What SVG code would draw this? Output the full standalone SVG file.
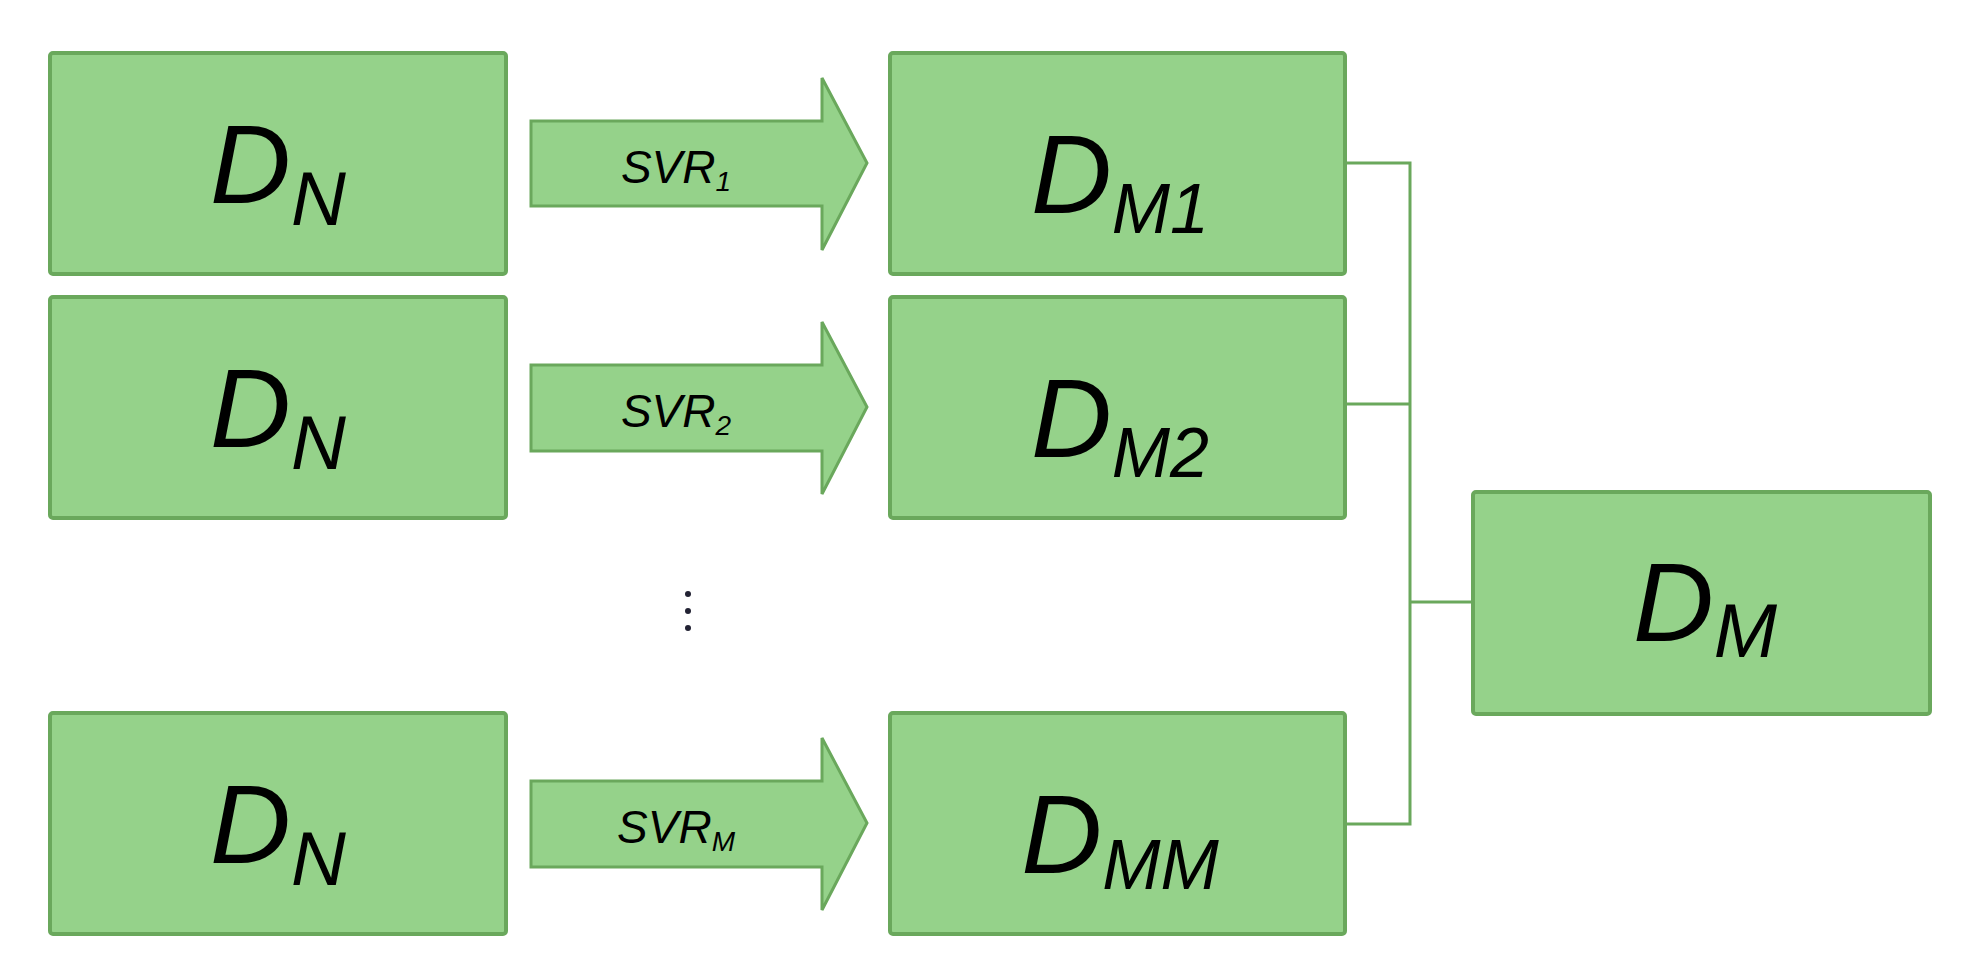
<svg xmlns="http://www.w3.org/2000/svg" width="1970" height="978" viewBox="0 0 1970 978">
<style>
.box{fill:#95d28a;stroke:#6aa85c;stroke-width:4}
.arr{fill:#95d28a;stroke:#6aa85c;stroke-width:3}
.big{font-family:"Liberation Sans",sans-serif;font-style:italic;font-size:112px;fill:#000}
.svr{font-family:"Liberation Sans",sans-serif;font-style:italic;font-size:46px;fill:#000}
.con{fill:none;stroke:#6aa85c;stroke-width:3}
</style>
<rect width="1970" height="978" fill="#fff"/>
<g id="connectors">
<path class="con" d="M1345 163H1410V824H1345M1345 404H1410M1410 602H1473"/>
</g>
<g id="arrow1"><path class="arr" d="M531 121H822V78L867 163L822 250V206H531Z"/><text class="svr" x="676" y="183" text-anchor="middle">SVR<tspan font-size="28" dy="8">1</tspan></text></g>
<g id="arrow2"><path class="arr" d="M531 365H822V322L867 407L822 494V451H531Z"/><text class="svr" x="676" y="427" text-anchor="middle">SVR<tspan font-size="28" dy="8">2</tspan></text></g>
<g id="arrow3"><path class="arr" d="M531 781H822V738L867 823L822 910V867H531Z"/><text class="svr" x="676" y="843" text-anchor="middle">SVR<tspan font-size="28" dy="8">M</tspan></text></g>
<g id="dn1"><rect class="box" x="50" y="53" width="456" height="221" rx="3"/><text class="big" x="278" y="203" text-anchor="middle">D<tspan font-size="76" dy="22">N</tspan></text></g>
<g id="dn2"><rect class="box" x="50" y="297" width="456" height="221" rx="3"/><text class="big" x="278" y="447" text-anchor="middle">D<tspan font-size="76" dy="22">N</tspan></text></g>
<g id="dn3"><rect class="box" x="50" y="713" width="456" height="221" rx="3"/><text class="big" x="278" y="863" text-anchor="middle">D<tspan font-size="76" dy="22">N</tspan></text></g>
<g id="dm1"><rect class="box" x="890" y="53" width="455" height="221" rx="3"/><text class="big" x="1120" y="213" text-anchor="middle">D<tspan font-size="70" dy="20">M1</tspan></text></g>
<g id="dm2"><rect class="box" x="890" y="297" width="455" height="221" rx="3"/><text class="big" x="1120" y="457" text-anchor="middle">D<tspan font-size="70" dy="20">M2</tspan></text></g>
<g id="dmm"><rect class="box" x="890" y="713" width="455" height="221" rx="3"/><text class="big" x="1120" y="873" text-anchor="middle">D<tspan font-size="70" dy="16">MM</tspan></text></g>
<g id="dm"><rect class="box" x="1473" y="492" width="457" height="222" rx="3"/><text class="big" x="1705" y="641" text-anchor="middle">D<tspan font-size="76" dy="16">M</tspan></text></g>
<g id="dots" fill="#223"><circle cx="688" cy="594" r="3"/><circle cx="688" cy="611" r="3"/><circle cx="688" cy="628" r="3"/></g>
</svg>
